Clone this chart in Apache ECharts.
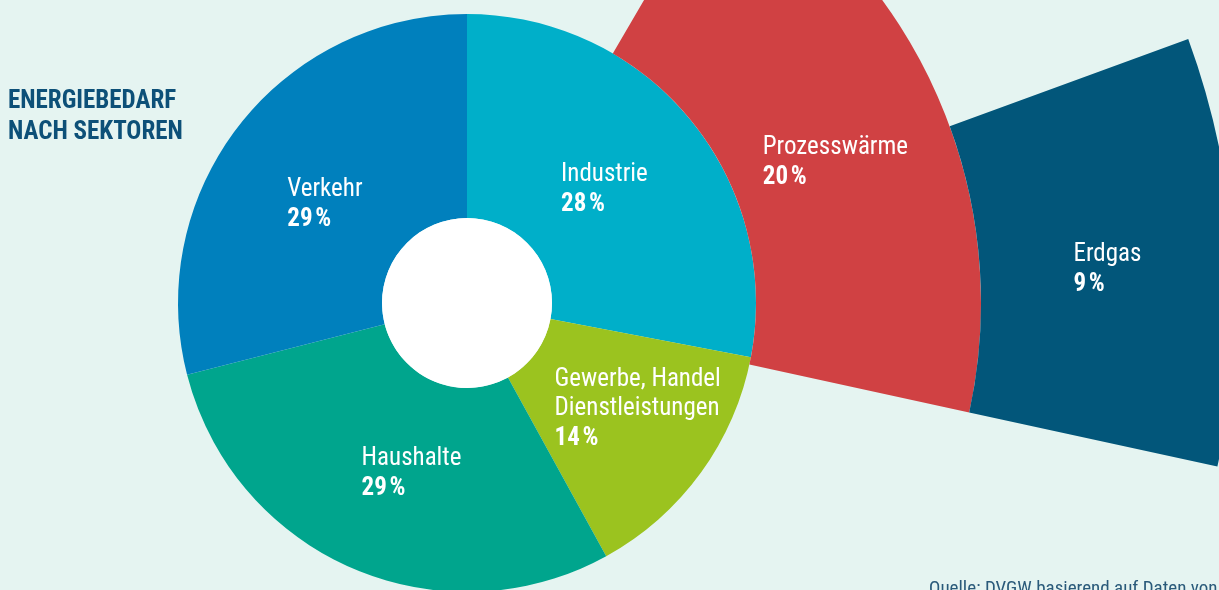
<!DOCTYPE html>
<html>
<head>
<meta charset="utf-8">
<script src="https://cdn.jsdelivr.net/npm/echarts@6/dist/echarts.min.js"></script>
<style>
  html, body { margin: 0; padding: 0; background: #e5f4f1; }
  #chart { width: 1219px; height: 590px; }
</style>
</head>
<body>
<div id="chart"></div>
<script>
// Sektoren (innerer Ring)
const sectors = ['Industrie', 'Gewerbe, Handel\nDienstleistungen', 'Haushalte', 'Verkehr']
const sectorValues = [28, 14, 29, 29]
const sectorColors = ['#00afc9', '#9bc31f', '#00a58d', '#0080bd']

// Aufschlüsselung Industrie
const processName = 'Prozesswärme'
const processValue = 20
const gasName = 'Erdgas'
const gasValue = 9

const FONT = "'Liberation Sans Narrow', 'Roboto Condensed', Roboto, sans-serif"
const industrie = sectorValues[0]
const total = sectorValues.reduce((a, b) => a + b, 0)

// kleine Verschiebungen der Beschriftungen
const sectorNudge = [[-9, 8], [17, -5], [20, -3], [8, 19]]

const hidden = v => ({
    value: v,
    itemStyle: { color: 'transparent' },
    label: { show: false }
})

const labelStyle = {
    show: true,
    position: 'inside',
    color: '#fff',
    fontFamily: FONT,
    formatter: p => '{n|' + p.name.split('\n').join('}\n{n|') + '}\n{p|' + p.value + '\u200a%}',
    rich: {
        n: { fontSize: 25, lineHeight: 29, fontFamily: FONT, color: '#fff', align: 'left' },
        p: { fontSize: 25, lineHeight: 31, fontFamily: FONT, fontWeight: 'bold', color: '#fff', align: 'left' }
    }
}

const chart = echarts.init(document.getElementById('chart'))

const option = {
    backgroundColor: '#e5f4f1',
    animation: false,
    title: [{
        text: 'ENERGIEBEDARF\nNACH SEKTOREN',
        left: 3,
        top: 81,
        textStyle: { fontFamily: FONT, fontSize: 25, fontWeight: 'bold', color: '#0d5078', lineHeight: 31 }
    }, {
        text: 'Quelle: DVGW basierend auf Daten von AGEB',
        left: 924,
        top: 575,
        textStyle: { fontFamily: FONT, fontSize: 19, fontWeight: 'normal', color: '#2a5a7a' }
    }],
    series: [{
        type: 'pie',
        center: [467, 303],
        radius: [85, 289],
        startAngle: 90,
        clockwise: true,
        silent: true,
        avoidLabelOverlap: false,
        labelLine: { show: false },
        label: labelStyle,
        labelLayout: p => ({ dx: sectorNudge[p.dataIndex][0], dy: sectorNudge[p.dataIndex][1] }),
        data: sectors.map((s, i) => ({
            name: s,
            value: sectorValues[i],
            itemStyle: { color: sectorColors[i] }
        }))
    }, {
        type: 'pie',
        center: [467, 303],
        radius: [0, 85],
        silent: true,
        label: { show: false },
        data: [{ value: 1, itemStyle: { color: '#fff' } }]
    }, {
        type: 'pie',
        center: [467, 303],
        radius: [289, 514],
        startAngle: 88.5,
        clockwise: true,
        silent: true,
        avoidLabelOverlap: false,
        labelLine: { show: false },
        label: labelStyle,
        labelLayout: { dx: -2, dy: 23 },
        data: [
            hidden(industrie - processValue),
            { name: processName, value: processValue, itemStyle: { color: '#d04143' } },
            hidden(total - industrie)
        ]
    }, {
        type: 'pie',
        center: [467, 303],
        radius: [514, 768],
        startAngle: 88.5,
        clockwise: true,
        silent: true,
        avoidLabelOverlap: false,
        labelLine: { show: false },
        label: labelStyle,
        labelLayout: { dx: -2, dy: 11 },
        data: [
            hidden(industrie - gasValue),
            { name: gasName, value: gasValue, itemStyle: { color: '#02567a' } },
            hidden(total - industrie)
        ]
    }]
}

chart.setOption(option)
</script>
</body>
</html>
